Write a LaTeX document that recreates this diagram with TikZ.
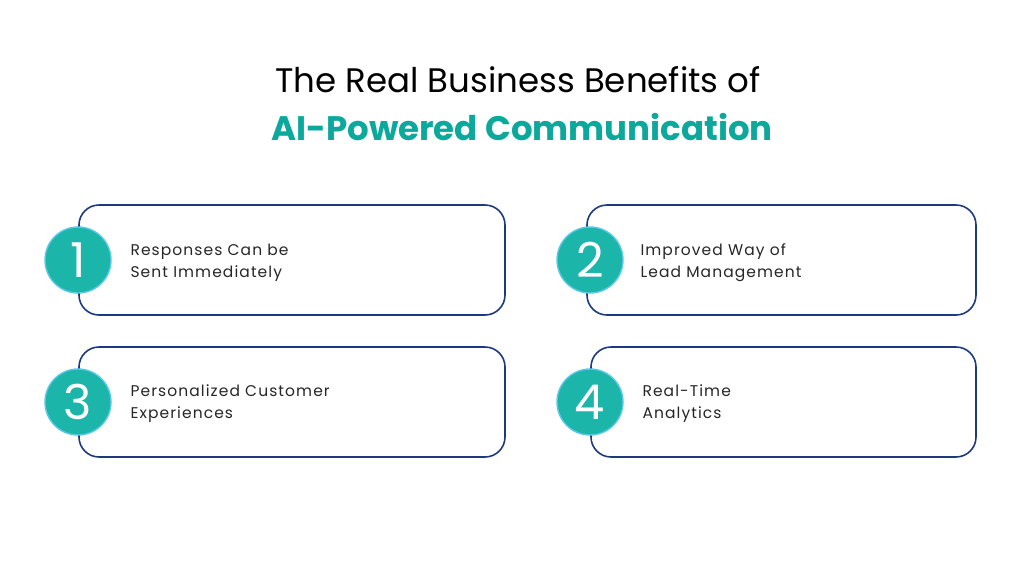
\documentclass[tikz,border=0pt]{standalone}
\usepackage{fontspec}
\setmainfont{Poppins}
\newfontfamily\spaced[LetterSpace=7]{Poppins}
\definecolor{teal1}{HTML}{1CB5AA}
\definecolor{ring}{HTML}{5BC8E6}
\definecolor{navy}{HTML}{1D3A80}
\definecolor{ttl}{HTML}{0DA89C}
\begin{document}
\begin{tikzpicture}[x=1pt,y=-1pt,
 box/.style={draw=navy,line width=1.6pt,rounded corners=20pt},
 num/.style={circle,fill=teal1,draw=ring,line width=1.4pt,minimum size=66pt,inner sep=0pt,text=white,font=\fontsize{48}{48}\selectfont},
 lbl/.style={anchor=west,align=left,font=\spaced\fontsize{15.5}{22}\selectfont,text=black!85}]
\useasboundingbox (0,0) rectangle (1024,576);
\node[font=\fontsize{34}{34}\selectfont] (t1) at (518,80) {The Real Business Benefits of};
\node[font=\fontsize{34}{34}\selectfont\bfseries,text=ttl] (t2) at (522,127) {AI-Powered Communication};
\draw[box] (79,205) rectangle (505,315);
\draw[box] (587,205) rectangle (976,315);
\draw[box] (79,347) rectangle (505,457);
\draw[box] (591,347) rectangle (976,457);
\node[num] (n1) at (78,260) {1};
\node[num] (n2) at (590,260) {2};
\node[num] (n3) at (78,402) {3};
\node[num] (n4) at (590,402) {4};
\node[lbl] (l1) at (127,263) {Responses Can be\\Sent Immediately};
\node[lbl] (l2) at (637,263) {Improved Way of\\Lead Management};
\node[lbl] (l3) at (127,404) {Personalized Customer\\Experiences};
\node[lbl] (l4) at (639,404) {Real-Time\\Analytics};
\end{tikzpicture}
\end{document}
